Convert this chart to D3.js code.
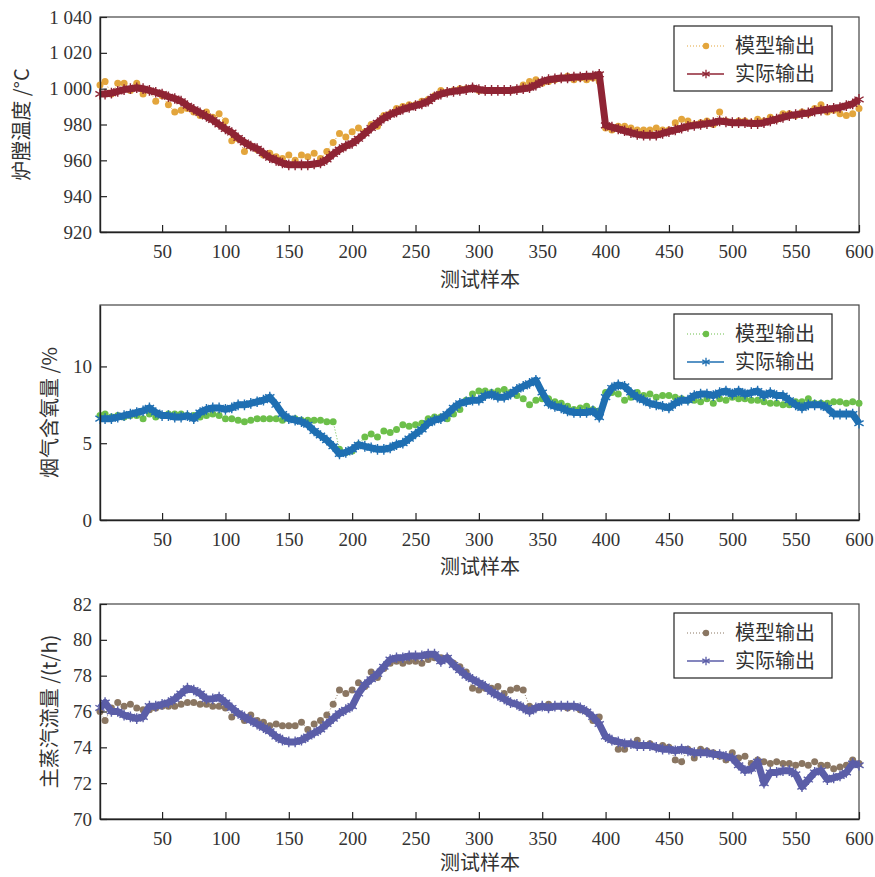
<!doctype html>
<html lang="zh">
  <head>
    <meta charset="utf-8">
    <title>模型输出与实际输出</title>
    <script src="https://cdn.jsdelivr.net/npm/d3@7"></script>
    <style>
      body { margin: 0; background: #fff; }
      .zh { font-family: "Noto Sans CJK SC", sans-serif; fill: #333; }
    </style>
  </head>
  <body>
    <script>

      // samples 1, 5, 10, ... 600
      var samples = d3.range(0, 601, 5).map(function(d){ return d === 0 ? 1 : d; });
      var xTicks = [50,100,150,200,250,300,350,400,450,500,550,600];
      var legendNames = ["模型输出", "实际输出"];

      // 炉膛温度 /°C
      var tempModel = [1002,1004,997,1003,1003,999,1003,997,999,993,996,991,987,988,989,987,985,987,984,986,982,
        971,972,965,968,966,963,964,962,961,963,960,963,962,964,961,965,970,975,973,976,
        978,976,980,979,985,986,989,990,991,991,993,994,996,999,998,999,1000,1000,1000,999,
        999,999,999,999,999,999.5,1002,1004,1005,1003,1004,1005,1006,1007,1005,1006,1005,1006,1004,978,
        977,979,979,978,977,977,977,978,977,977,981,983,982,980,981,982,980,987,982,981,
        982,982,981,983,982,984,983,986,986,985,987,986,989,991,987,988,986,985,986,989];
      var tempActual = [997,997,997.5,998.5,999.5,1000,1000.5,1000,999,998,997,995.5,994.5,993,990.5,988.5,986.5,984.5,982.5,980,977.5,
        975.5,972.5,970,968,966.5,964,961.5,960,958.5,957.5,957.5,957.5,957.5,958,958.5,960.5,963.5,966,968,969.5,
        972,975,978,981,983.5,985.5,987,988.5,989.5,990.5,991.5,993,995.5,997,998,998.5,999,999.5,1000.5,999.5,
        999,999,999,999,999,999.5,1000,1000.5,1002,1004,1005,1005.5,1006,1006,1006.5,1006.5,1007,1007,1008,979.5,
        978.5,977.5,976.5,975.5,974.5,974,974,974,975,976,977,978,979,979.5,980,980.5,981,982,981.5,981,
        981,981,980.5,980.5,981,982,983,984,985,985.5,986,986.5,987.5,988,988.5,989,989.5,990.5,991.5,994];
      var tempTicks = [920,940,960,980,1000,1020,1040];

      // 烟气含氧量 /%
      var o2Model = [6.8,6.9,6.7,6.8,6.7,6.8,6.8,6.6,6.9,6.7,6.8,6.9,6.9,6.9,6.8,6.8,6.7,6.8,6.9,6.8,6.6,
        6.6,6.5,6.4,6.5,6.6,6.6,6.6,6.6,6.5,6.6,6.6,6.5,6.5,6.5,6.5,6.4,6.4,4.6,4.4,4.5,
        4.9,5.4,5.6,5.4,5.8,5.7,5.9,6.2,6.1,6.2,6.3,6.6,6.7,6.7,6.6,6.9,7.2,7.8,8.2,8.4,
        8.4,8.3,8.4,8.5,8.3,8.1,7.9,7.5,7.8,7.9,7.9,7.7,7.6,7.4,7.2,7.3,7.4,7.2,7.1,8.3,
        8.3,8.2,7.8,8.0,8.3,8.1,8.2,8.0,8.1,8.1,8.0,7.9,7.8,7.8,7.7,7.9,7.6,7.9,7.8,8.0,
        7.9,7.9,7.8,7.8,7.7,7.6,7.6,7.5,7.5,7.7,7.7,7.9,7.6,7.6,7.6,7.7,7.7,7.6,7.7,7.6];
      var o2Actual = [6.6,6.6,6.6,6.7,6.8,6.9,7.0,7.1,7.3,7.0,6.8,6.8,6.7,6.7,6.8,6.6,7.0,7.2,7.3,7.3,7.2,
        7.3,7.5,7.5,7.6,7.7,7.8,8.0,7.5,6.9,6.6,6.5,6.4,6.2,5.8,5.5,5.2,4.8,4.3,4.4,4.6,
        4.9,4.8,4.7,4.6,4.6,4.7,4.9,5.0,5.3,5.6,5.9,6.3,6.5,6.6,6.9,7.3,7.6,7.7,7.8,7.8,
        8.1,8.2,8.0,8.0,8.2,8.5,8.7,8.9,9.1,8.3,7.6,7.4,7.3,7.1,7.0,7.0,7.0,7.1,6.7,8.0,
        8.6,8.8,8.7,8.3,8.0,7.8,7.6,7.5,7.4,7.3,7.6,7.8,7.8,8.1,8.2,8.2,8.1,8.3,8.4,8.2,
        8.4,8.2,8.3,8.4,8.1,8.3,8.1,8.1,7.8,7.5,7.3,7.5,7.5,7.5,7.3,6.9,6.9,6.9,6.9,6.3];
      var o2Ticks = [0,5,10];

      // 主蒸汽流量 /(t/h)
      var flowModel = [76.0,75.5,76.2,76.5,76.3,76.4,76.2,76.1,76.1,76.2,76.3,76.3,76.3,76.4,76.5,76.5,76.4,76.4,76.3,76.3,76.2,
        75.7,75.9,75.5,75.8,75.5,75.4,75.2,75.3,75.2,75.2,75.2,75.4,75.0,75.3,75.5,75.8,76.4,77.2,77.0,77.2,
        77.6,77.4,78.2,77.9,78.4,78.7,78.8,78.7,78.8,78.8,78.7,78.9,79.0,79.0,79.0,78.7,78.5,78.2,77.3,77.2,
        77.3,77.3,77.4,77.0,77.2,77.3,77.2,76.3,76.2,76.3,76.4,76.3,76.3,76.2,76.3,76.1,76.0,75.5,75.7,74.6,
        74.4,73.9,73.9,74.2,74.4,74.1,74.2,74.0,74.1,74.0,73.3,73.2,73.9,73.4,73.9,73.8,73.7,73.5,73.3,73.7,
        73.4,73.5,73.1,73.3,73.2,73.1,73.2,73.1,73.1,73.0,73.1,73.0,73.2,73.0,73.0,72.8,72.9,73.0,73.3,73.1];
      var flowActual = [76.2,76.5,76.0,76.0,75.8,75.7,75.6,75.7,76.3,76.3,76.4,76.5,76.7,77.0,77.3,77.2,77.0,76.7,76.7,76.8,76.5,
        76.2,75.9,75.7,75.5,75.3,75.1,74.9,74.6,74.4,74.3,74.3,74.4,74.6,74.8,75.0,75.3,75.6,75.9,76.1,76.3,
        77.0,77.5,77.8,78.1,78.5,78.9,79.0,79.0,79.1,79.1,79.1,79.2,79.2,78.8,79.0,78.6,78.3,78.0,77.8,77.6,
        77.4,77.1,76.9,76.7,76.5,76.4,76.2,76.0,76.2,76.3,76.2,76.3,76.3,76.3,76.3,76.2,76.0,75.7,75.3,74.6,
        74.4,74.3,74.2,74.2,74.1,74.1,74.1,74.0,73.9,73.9,73.8,73.9,73.8,73.7,73.7,73.7,73.6,73.6,73.5,73.4,
        73.0,72.7,72.8,73.2,72.0,72.6,72.6,72.7,72.7,72.5,71.8,72.2,72.6,72.7,72.2,72.3,72.4,72.6,73.1,73.0];
      var flowTicks = [70,72,74,76,78,80,82];

      var W = 875, H = 877;
      var svg = d3.select("body").append("svg")
          .attr("width", W)
          .attr("height", H);

      var panels = [
        {model: tempModel, actual: tempActual, ticks: tempTicks, domain: [920,1040], top: 17, bottom: 232,
         label: "炉膛温度 /°C", labelX: 22, cModel: "#e3a53c", cActual: "#8f2434", xlab: 55,
         fmt: function(v){ return d3.format(",")(v).replace(",", " "); }},
        {model: o2Model, actual: o2Actual, ticks: o2Ticks, domain: [0,14], top: 305, bottom: 520,
         label: "烟气含氧量 /%", labelX: 50, cModel: "#6cbf4a", cActual: "#1f6fb2", xlab: 54,
         fmt: d3.format("d")},
        {model: flowModel, actual: flowActual, ticks: flowTicks, domain: [70,82], top: 604, bottom: 819,
         label: "主蒸汽流量 /(t/h)", labelX: 50, cModel: "#8a7662", cActual: "#5b5ea8", xlab: 51,
         fmt: d3.format("d")}
      ];

      var left = 100, right = 859;
      var x = d3.scaleLinear().domain([1, 600]).range([left, right]);
      var star = d3.symbol().type(d3.symbolAsterisk).size(80);

      function styleAxis(a){
        a.attr("font-family", "'Liberation Serif', 'DejaVu Serif', serif").attr("font-size", 19);
        a.select(".domain").attr("stroke", "#222").attr("stroke-width", 1.4);
        a.selectAll(".tick line").attr("stroke", "#222").attr("stroke-width", 1.2);
        a.selectAll(".tick text").attr("fill", "#333")
            .style("font-family", "'Liberation Serif', 'DejaVu Serif', serif").style("font-size", "19px");
      }

      panels.forEach(function(p){
        var y = d3.scaleLinear().domain(p.domain).range([p.bottom, p.top]);
        var g = svg.append("g");
        var line = d3.line().x(function(d,i){ return x(samples[i]); }).y(function(d){ return y(d); });

        // frame
        g.append("rect")
            .attr("x", left).attr("y", p.top)
            .attr("width", right - left).attr("height", p.bottom - p.top)
            .attr("fill", "none").attr("stroke", "#444").attr("stroke-width", 1.2);

        // model output: dotted line + dots
        g.append("path")
            .datum(p.model)
            .attr("fill", "none")
            .attr("stroke", p.cModel)
            .attr("stroke-width", 1)
            .attr("stroke-dasharray", "1,2")
            .attr("d", line);
        g.selectAll(".dot").data(p.model).enter().append("circle")
            .attr("cx", function(d,i){ return x(samples[i]); })
            .attr("cy", function(d){ return y(d); })
            .attr("r", 3.5)
            .attr("fill", p.cModel);

        // actual output: line + asterisks
        g.append("path")
            .datum(p.actual)
            .attr("fill", "none")
            .attr("stroke", p.cActual)
            .attr("stroke-width", 7)
            .attr("stroke-linejoin", "round")
            .attr("d", line);
        g.selectAll(".star").data(p.actual).enter().append("path")
            .attr("d", star)
            .attr("transform", function(d,i){ return "translate(" + x(samples[i]) + "," + y(d) + ")"; })
            .attr("fill", "none")
            .attr("stroke", p.cActual)
            .attr("stroke-width", 1.4);

        // axes
        g.append("g")
            .attr("transform", "translate(0," + p.bottom + ")")
            .call(d3.axisBottom(x).tickValues(xTicks).tickSizeInner(-7).tickSizeOuter(0).tickPadding(13))
            .call(styleAxis);
        g.append("g")
            .attr("transform", "translate(" + left + ",0)")
            .call(d3.axisLeft(y).tickValues(p.ticks).tickFormat(p.fmt).tickSizeInner(-7).tickSizeOuter(0).tickPadding(8))
            .call(styleAxis);

        // axis titles
        g.append("text")
            .attr("class", "zh")
            .attr("x", 480).attr("y", p.bottom + p.xlab)
            .attr("text-anchor", "middle")
            .attr("font-size", 20)
            .text("测试样本");
        g.append("text")
            .attr("class", "zh")
            .attr("transform", "translate(" + (p.labelX + 7) + "," + ((p.top + p.bottom) / 2) + ") rotate(-90)")
            .attr("text-anchor", "middle")
            .attr("font-size", 20)
            .text(p.label);

        // legend
        var lg = g.append("g").attr("transform", "translate(674," + (p.top + 9) + ")");
        lg.append("rect")
            .attr("width", 158).attr("height", 65)
            .attr("fill", "#fff").attr("stroke", "#222").attr("stroke-width", 1.2);
        [0, 1].forEach(function(k){
          var ly = 20 + k * 28;
          var c = k === 0 ? p.cModel : p.cActual;
          lg.append("line")
              .attr("x1", 13).attr("x2", 50).attr("y1", ly).attr("y2", ly)
              .attr("stroke", c).attr("stroke-width", k === 0 ? 1 : 1.3)
              .attr("stroke-dasharray", k === 0 ? "1,2" : null);
          if (k === 0) {
            lg.append("circle").attr("cx", 32).attr("cy", ly).attr("r", 3.2).attr("fill", c);
          } else {
            lg.append("path").attr("d", d3.symbol().type(d3.symbolAsterisk).size(50))
                .attr("transform", "translate(32," + ly + ")")
                .attr("fill", "none").attr("stroke", c).attr("stroke-width", 1.3);
          }
          lg.append("text")
              .attr("class", "zh")
              .attr("x", 61).attr("y", ly + 7)
              .attr("font-size", 20)
              .text(legendNames[k]);
        });
      });

    </script>
  </body>
</html>
